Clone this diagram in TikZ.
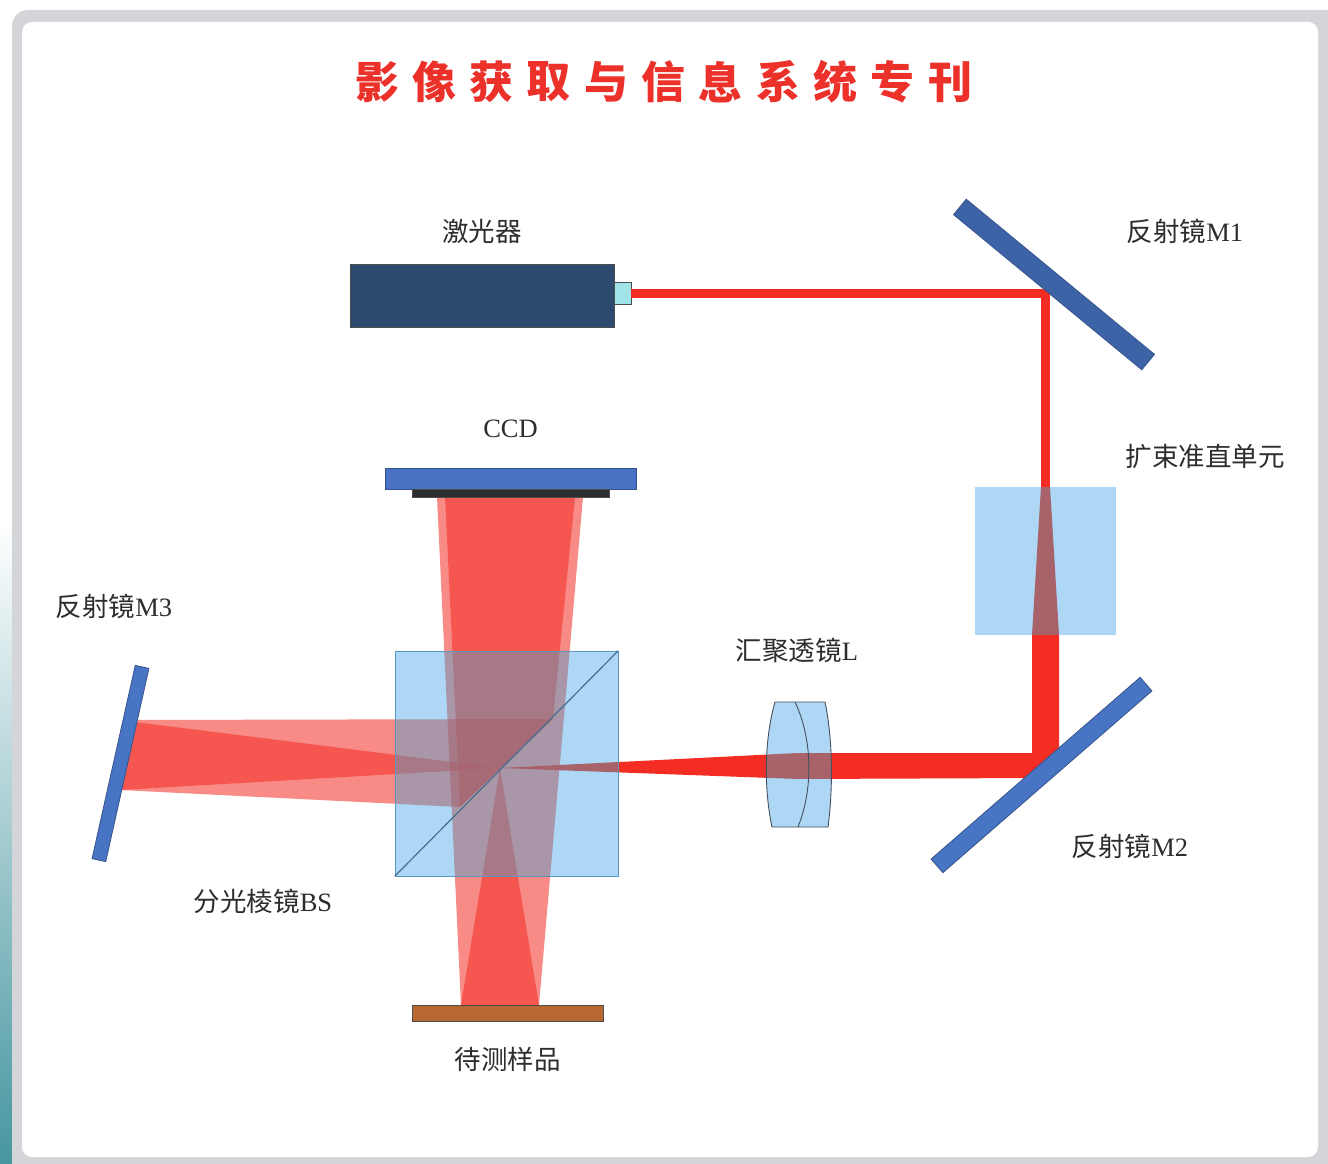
\documentclass[tikz,border=0pt]{standalone}
\usepackage{fontspec}
\setmainfont{Liberation Serif}
\newfontfamily\cjk{Noto Sans CJK SC}
\usetikzlibrary{positioning}

\definecolor{beamred}{RGB}{243,45,36}
\definecolor{glassblue}{RGB}{160,210,242}
\definecolor{glasstint}{RGB}{180,218,246}
\definecolor{bsedge}{RGB}{95,150,190}
\definecolor{lensedge}{RGB}{70,80,95}
\definecolor{mirrorblue}{RGB}{72,116,196}
\definecolor{mirroredge}{RGB}{55,85,140}
\definecolor{laserbody}{RGB}{45,74,110}
\definecolor{nozzlecyan}{RGB}{160,228,232}
\definecolor{ccdblue}{RGB}{74,114,196}
\definecolor{sensordark}{RGB}{45,45,48}
\definecolor{samplebrown}{RGB}{182,104,48}
\definecolor{framegray}{RGB}{212,213,216}
\definecolor{pageteal}{RGB}{70,150,160}
\definecolor{titlered}{RGB}{236,48,42}
\definecolor{labelgray}{RGB}{45,45,45}

\tikzset{
  lbl/.style={font=\fontsize{26.5}{30}\selectfont, text=labelgray, inner sep=0pt},
  titlechar/.style={font=\cjk\bfseries\fontsize{44}{48}\selectfont, text=titlered, inner sep=0pt},
  beam/.style={fill=beamred},
  halfbeam/.style={fill=beamred, fill opacity=0.55},
  mirror/.style={draw=mirroredge, fill=mirrorblue, line width=0.8pt, inner sep=0pt},
  glass/.style={fill=glasstint, inner sep=0pt},
  glassveil/.style={fill=glassblue, fill opacity=0.35, inner sep=0pt},
  plate/.style={draw=black!70, line width=0.6pt, inner sep=0pt},
}

\newcommand\lenspath{(775,702) .. controls (764,740) and (764,790) .. (772,827) -- (828,827)
    .. controls (833,790) and (833,740) .. (825,702) -- cycle}

\begin{document}
\begin{tikzpicture}[x=1pt, y=-1pt]
\useasboundingbox (0,0) rectangle (1328,1164);

% page, frame
\fill[white] (0,0) rectangle (1328,1164);
\shade[top color=white, bottom color=pageteal] (0,520) rectangle (12,1164);
\fill[framegray, rounded corners=16] (12,10) rectangle (1345,1180);
\fill[white, rounded corners=10] (22,22) rectangle (1318,1157);

% title
\foreach \c [count=\i from 0] in {影,像,获,取,与,信,息,系,统,专,刊}
  \node[titlechar] (t\i) at (377+57.3*\i, 82) {\c};

% laser head
\node[plate, fill=laserbody, minimum width=264pt, minimum height=63pt] (laser) at (482,295.5) {};
\node[plate, fill=nozzlecyan, minimum width=17pt, minimum height=22pt] (nozzle) at (622.5,293) {};

\coordinate (focus) at (500,768);

% beam: laser -> M1 -> expander
\draw[beamred, line width=9pt, line join=miter] (nozzle.east) -- (1045.5,293) -- (1045.5,487);
\fill[beam] (1041,487) -- (1050,487) -- (1059,635) -- (1032,635) -- cycle;
% expander -> M2 -> lens -> focus
\fill[beam] (1032,635) -- (1059,635) -- (1059,760) -- (1038,778) -- (798,779)
  -- (focus) -- (798,753) -- (1032,753) -- cycle;

% split beams at BS
\fill[halfbeam] (focus) -- (135,722) -- (120,790) -- cycle;
\fill[halfbeam] (135,720) -- (553,719) -- (460,807) -- (120,790) -- cycle;
\fill[halfbeam] (553,719) -- (575,497) -- (445,497) -- (460,807) -- cycle;
\fill[halfbeam] (focus) -- (461,1005) -- (539,1005) -- cycle;
\fill[halfbeam] (461,1005) -- (539,1005) -- (583,497) -- (437,497) -- cycle;

% glass parts: tint, then a light veil
\begin{scope}[blend mode=multiply]
  \node[glass, minimum width=141pt, minimum height=148pt] (expander) at (1045.5,561) {};
  \node[glass, minimum width=223pt, minimum height=225pt] (bs) at (506.5,763.5) {};
  \fill[glasstint] \lenspath;
\end{scope}
\node[glassveil, minimum width=141pt, minimum height=148pt] at (expander) {};
\node[glassveil, draw=bsedge, draw opacity=1, line width=0.8pt, minimum width=223pt, minimum height=225pt] at (bs) {};
\filldraw[draw=lensedge, fill=glassblue, fill opacity=0.35, line width=0.9pt] \lenspath;
\draw[lensedge, line width=0.9pt] (795,702) .. controls (813,740) and (813,790) .. (798,827);
\draw[bsedge!75!black, line width=1.2pt] (bs.south west) -- (bs.north east);

% mirrors
\node[mirror, fill=mirrorblue!85!black, minimum width=244pt, minimum height=20pt, rotate=-39.5] (m1) at (1054,284.5) {};
\node[mirror, minimum width=277pt, minimum height=18pt, rotate=41] (m2) at (1041.5,775) {};
\node[mirror, minimum width=198pt, minimum height=14pt, rotate=77.4] (m3) at (120.5,763.5) {};

% CCD and sample
\node[plate, draw=ccdblue!70!black, fill=ccdblue, minimum width=251pt, minimum height=21pt] (ccd) at (510.5,478.5) {};
\node[plate, fill=sensordark, minimum width=197pt, minimum height=8pt, below=0pt of ccd] (sensor) {};
\node[plate, fill=samplebrown, minimum width=191pt, minimum height=16pt] (sample) at (507.5,1013) {};

% labels
\node[lbl, above=20pt of laser] (laserlbl) {{\cjk 激光器}};
\node[lbl] (m1lbl) at (1185,231) {{\cjk 反射镜}M1};
\node[lbl, above=30pt of ccd] (ccdlbl) {CCD};
\node[lbl] (expanderlbl) at (1205,456) {{\cjk 扩束准直单元}};
\node[lbl] (m3lbl) at (114,606) {{\cjk 反射镜}M3};
\node[lbl] (lenslbl) at (797,650) {{\cjk 汇聚透镜}L};
\node[lbl] (m2lbl) at (1130,846) {{\cjk 反射镜}M2};
\node[lbl] (bslbl) at (263,901) {{\cjk 分光棱镜}BS};
\node[lbl, below=26pt of sample] (samplelbl) {{\cjk 待测样品}};
\end{tikzpicture}
\end{document}
